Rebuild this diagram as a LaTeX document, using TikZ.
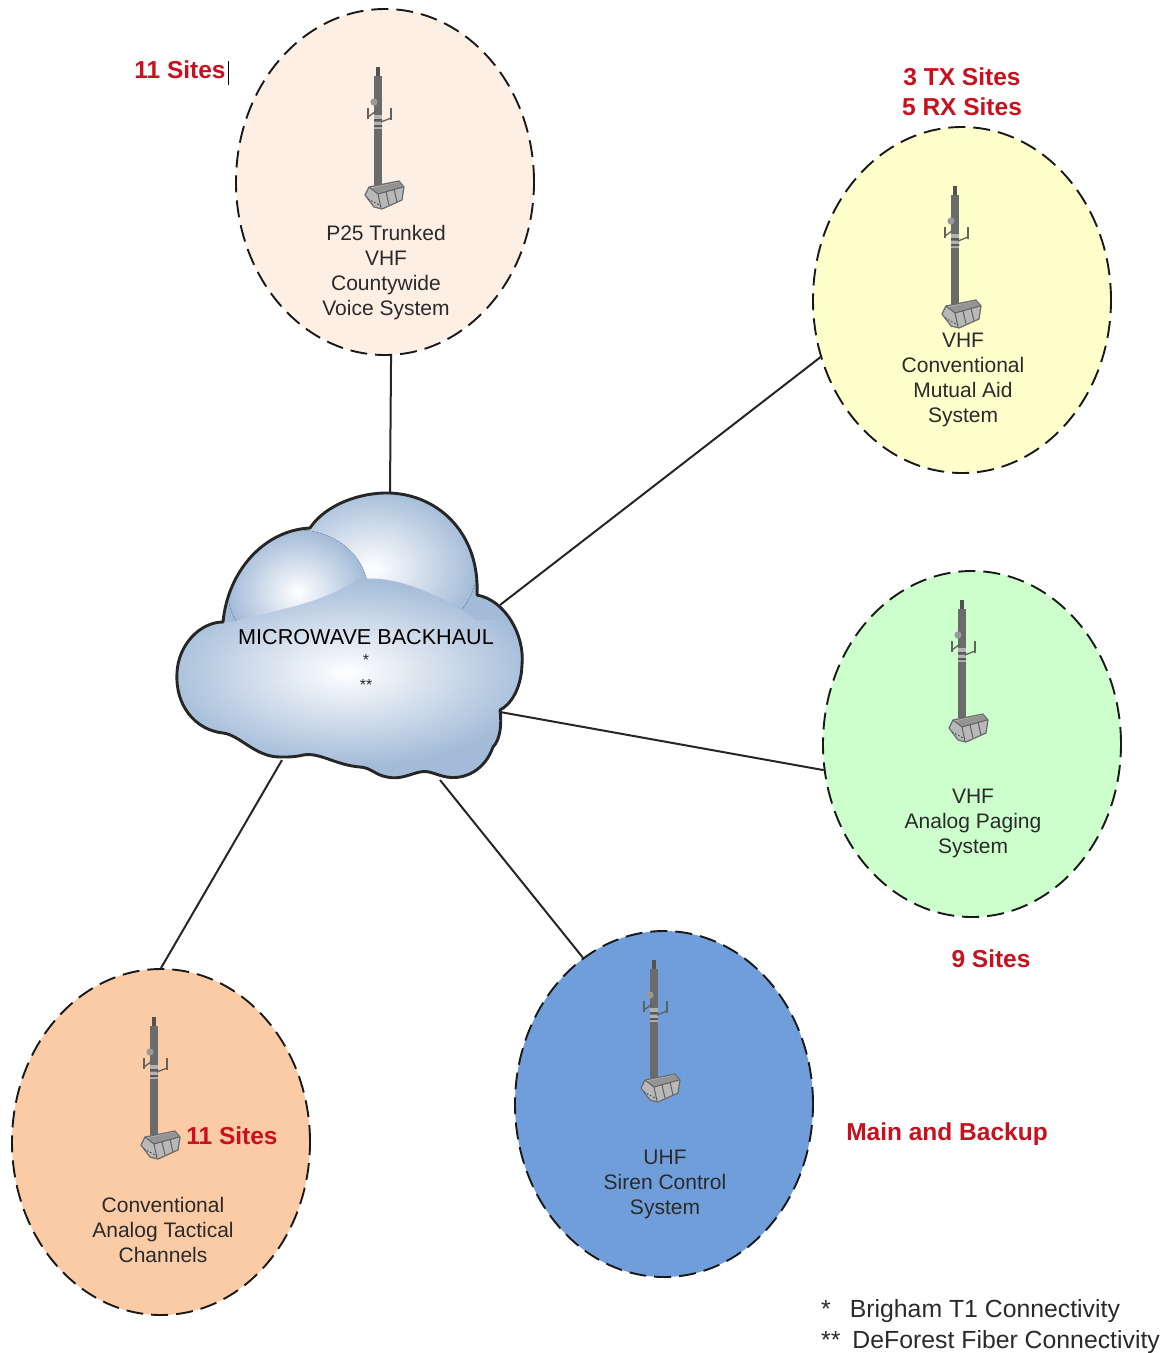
\documentclass[tikz,border=0pt]{standalone}
\usepackage{fontspec}
\setmainfont{Liberation Sans}
\usetikzlibrary{shapes.geometric}
\definecolor{redlab}{HTML}{C8101E}
\definecolor{txt}{HTML}{2A2A2A}
\definecolor{cloudedge}{HTML}{A3BBD8}
\pgfdeclareradialshading{cloudglow}{\pgfpoint{0bp}{0bp}}{color(0bp)=(white); color(12.5bp)=(cloudedge); color(50bp)=(cloudedge)}
\newcommand{\cloudoutline}{(390,493) .. controls (440,495) and (480,535) .. (477,595)
 .. controls (505,600) and (525,635) .. (522,665)
 .. controls (521,690) and (510,705) .. (500,710)
 .. controls (502,725) and (500,740) .. (493,747)
 .. controls (485,770) and (465,780) .. (447,777)
 .. controls (435,775) and (430,770) .. (420,772)
 .. controls (410,774) and (400,780) .. (387,777)
 .. controls (375,775) and (372,768) .. (360,767)
 .. controls (335,765) and (320,752) .. (303,755)
 .. controls (295,757) and (290,757) .. (280,757)
 .. controls (255,757) and (240,735) .. (223,733)
 .. controls (195,730) and (175,705) .. (177,673)
 .. controls (178,645) and (200,622) .. (223,622)
 .. controls (228,570) and (265,530) .. (310,528)
 .. controls (325,505) and (360,492) .. (390,493) -- cycle}
\newcommand{\bodyoutline}{(232,622) .. controls (265,612) and (320,605) .. (357,580)
 .. controls (395,572) and (450,600) .. (476,620) -- (540,620) -- (540,800) -- (160,800) -- (160,622) -- cycle}
\tikzset{
 x=1pt,y=-1pt,
 sitecircle/.style={shape=ellipse,draw=black!90,line width=1.9pt,dash pattern=on 17pt off 8pt,minimum width=298pt,minimum height=346pt,inner sep=0pt},
 link/.style={draw=black!85,line width=2pt},
 label/.style={font=\fontsize{21}{25}\selectfont,text=txt,align=center,inner sep=0pt},
 sitelabel/.style={font=\bfseries\fontsize{24.5}{30}\selectfont,text=redlab,align=center,inner sep=0pt},
 note/.style={font=\fontsize{24.8}{31}\selectfont,text=txt,anchor=west,inner sep=0pt},
 tower/.pic={
  \fill[black!68] (-2,0) rectangle (2,10);
  \fill[black!58] (-4,9) rectangle (4,118);
  \fill[black!30] (-4,48) rectangle (4,62);
  \fill[black!65] (-4,52) rectangle (4,54.5) (-4,58) rectangle (4,60);
  \fill[black!40] (-4,35) circle [radius=3.6];
  \draw[black!62,line width=2.4pt] (-10,41) -- (-10,52) (13,41) -- (13,53);
  \draw[black!62,line width=1.3pt] (-10,50) -- (-2,44) (13,51) -- (3,55);
  \filldraw[fill=black!28,draw=black!58,line width=1.2pt,line join=round] (-13,128) -- (-9,120) -- (6,117) -- (21,114) -- (26,120) -- (24,133) -- (4,142) -- (-4,140) -- cycle;
  \fill[black!42] (-6,121) -- (21,115) -- (25,120) -- (0,127) -- cycle;
  \draw[black!62,line width=1pt] (-9,120) -- (0,127) -- (25,120) (0,127) -- (3,141) (8,125) -- (11,138) (16,122) -- (19,135);
  \draw[black!70,line width=1pt,dash pattern=on 1.5pt off 2pt] (-10,132) -- (3,139);
 }
}
\begin{document}
\begin{tikzpicture}
\useasboundingbox (0,0) rectangle (1171,1353);
% sites
\node[sitecircle,fill={rgb,255:red,253;green,239;blue,228}] (p25) at (385,182) {};
\node[sitecircle,fill={rgb,255:red,255;green,255;blue,204}] (conv) at (962,300) {};
\node[sitecircle,fill={rgb,255:red,204;green,255;blue,204}] (paging) at (972,744) {};
\node[sitecircle,fill={rgb,255:red,112;green,158;blue,219}] (siren) at (664,1104) {};
\node[sitecircle,fill={rgb,255:red,250;green,203;blue,165}] (tact) at (161,1142) {};
% cloud
\begin{scope}
 \clip \cloudoutline;
 \fill[cloudedge] (170,485) rectangle (530,785);
 \fill[inner color=white,outer color=cloudedge] (373,568) ellipse [x radius=104,y radius=80];
 \fill[inner color=white,outer color=cloudedge] (298,592) ellipse [x radius=70,y radius=62];
 \begin{scope}
  \clip \bodyoutline;
  \shade[shading=cloudglow] (347,672) ellipse [x radius=380,y radius=190];
 \end{scope}
\end{scope}
\draw[black!85,line width=2.9pt,line join=round] \cloudoutline;
\coordinate (cTop) at (390,493);
\coordinate (cConv) at (500,605);
\coordinate (cPage) at (500,712);
\coordinate (cSiren) at (440,780);
\coordinate (cTact) at (282,760);
% connectors
\draw[link] (cTop) -- (p25.272);
\draw[link] (cConv) -- (conv.202.5);
\draw[link] (cPage) -- (paging.190);
\draw[link] (cSiren) -- (siren.119);
\draw[link] (cTact) -- (tact.90);
% towers
\pic at (378,67) {tower};
\pic at (955,186) {tower};
\pic at (962,600) {tower};
\pic at (654,960) {tower};
\pic at (154,1017) {tower};
% labels
\node[label] (lp25) at (386,273) {P25 Trunked\\VHF\\Countywide\\Voice System};
\node[label] (lconv) at (963,380) {VHF\\Conventional\\Mutual Aid\\System};
\node[label] (lpage) at (973,823) {VHF\\Analog Paging\\System};
\node[label] (lsiren) at (665,1184) {UHF\\Siren Control\\System};
\node[label] (ltact) at (163,1230) {Conventional\\Analog Tactical\\Channels};
\node[label,font=\fontsize{21.6}{25}\selectfont,text=black] (lcloud) at (366,637) {MICROWAVE BACKHAUL};
\node[label,font=\fontsize{16}{25}\selectfont] (s1) at (366,660) {*};
\node[label,font=\fontsize{16}{25}\selectfont] (s2) at (366,685) {**};
\node[sitelabel] (n11a) at (180,70) {11 Sites};
\node[inner sep=0pt,minimum width=1pt,minimum height=24pt,fill=black] (cursor) at (228.5,73) {};
\node[sitelabel] (n3) at (962,92) {3 TX Sites\\5 RX Sites};
\node[sitelabel] (n9) at (991,959) {9 Sites};
\node[sitelabel] (nmain) at (947,1134) {Main and Backup};
\node[sitelabel] (n11b) at (232,1136) {11 Sites};
\node[note] (f1) at (821,1311) {*\hspace{19pt}Brigham T1 Connectivity};
\node[note] (f2) at (821,1342) {**\hspace{12pt}DeForest Fiber Connectivity};
\end{tikzpicture}
\end{document}
